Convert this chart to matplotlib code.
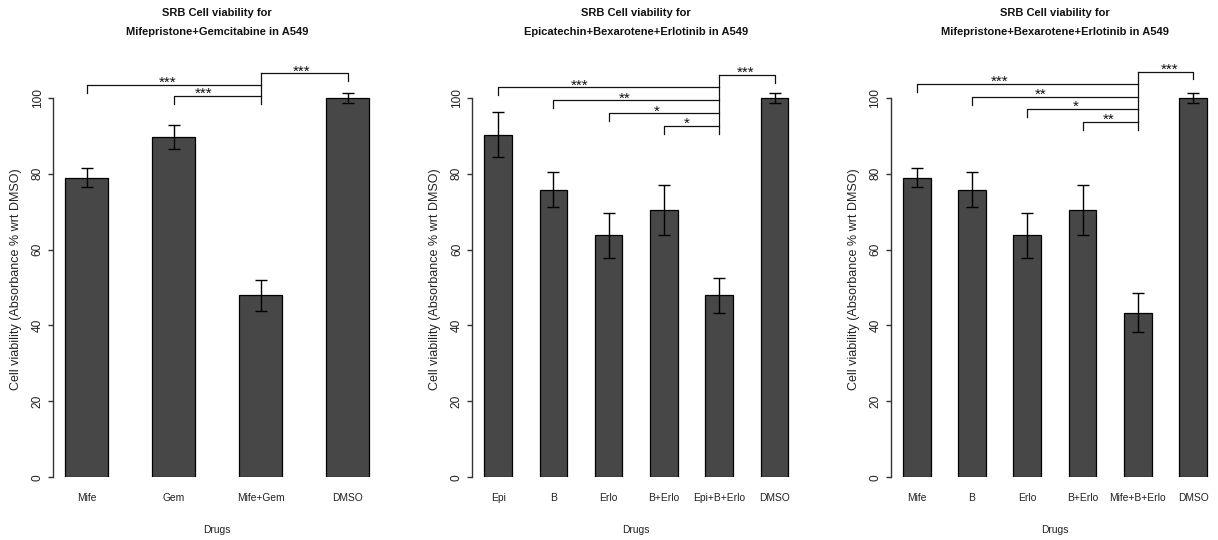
import matplotlib
matplotlib.use("Agg")
import matplotlib.pyplot as plt
from matplotlib import font_manager

# ---- data -------------------------------------------------------------
titles = [
    ("SRB Cell viability for", "Mifepristone+Gemcitabine in A549"),
    ("SRB Cell viability for", "Epicatechin+Bexarotene+Erlotinib in A549"),
    ("SRB Cell viability for", "Mifepristone+Bexarotene+Erlotinib in A549"),
]

mg_drugs = ["Mife", "Gem", "Mife+Gem", "DMSO"]
mg_mean = [78.9, 89.7, 47.9, 100.0]
mg_sem = [2.5, 3.1, 4.2, 1.3]
mg_sig = ["***", "***"]          # each single drug vs the combination
mg_sig_dmso = "***"              # combination vs DMSO

ebe_drugs = ["Epi", "B", "Erlo", "B+Erlo", "Epi+B+Erlo", "DMSO"]
ebe_mean = [90.3, 75.8, 63.7, 70.4, 47.9, 100.0]
ebe_sem = [6.0, 4.7, 5.8, 6.5, 4.6, 1.3]
ebe_sig = ["***", "**", "*", "*"]
ebe_sig_dmso = "***"

mbe_drugs = ["Mife", "B", "Erlo", "B+Erlo", "Mife+B+Erlo", "DMSO"]
mbe_mean = [78.9, 75.8, 63.7, 70.4, 43.4, 100.0]
mbe_sem = [2.5, 4.7, 5.8, 6.5, 5.1, 1.3]
mbe_sig = ["***", "**", "*", "**"]
mbe_sig_dmso = "***"

y_ticks = [0, 20, 40, 60, 80, 100]
x_title = "Drugs"
y_title = "Cell viability (Absorbance % wrt DMSO)"

# ---- fonts ------------------------------------------------------------
installed = {f.name for f in font_manager.fontManager.ttflist}
if "Liberation Sans Narrow" in installed:
    narrow, narrow_size = "Liberation Sans Narrow", 8.6
else:
    narrow, narrow_size = "Liberation Sans", 7.4
plain = "Liberation Sans"

BAR = "#474747"
INK = "#111111"
TXT = "#222222"

W, H = 1218, 540
fig = plt.figure(figsize=(W / 100, H / 100), dpi=100)

# plot regions in pixels: left edge, width; shared vertical scale
y0_px, y100_px = 477.3, 97.7
ytop = 110
px_per_unit = (y0_px - y100_px) / 100.0
ax_h = ytop * px_per_unit
ax_bottom = H - y0_px

panels = [
    dict(left=52.8, width=328.7, drugs=mg_drugs, mean=mg_mean, sem=mg_sem,
         sig=mg_sig, sig_dmso=mg_sig_dmso, top=106.4, step=3.0,
         star_x=[3.37, 4.18], dmso_star_x=6.45),
    dict(left=472.1, width=328.4, drugs=ebe_drugs, mean=ebe_mean, sem=ebe_sem,
         sig=ebe_sig, sig_dmso=ebe_sig_dmso, top=106.1, step=3.4,
         star_x=[4.45, 6.08, 7.25, 8.33], dmso_star_x=10.45),
    dict(left=890.7, width=328.4, drugs=mbe_drugs, mean=mbe_mean, sem=mbe_sem,
         sig=mbe_sig, sig_dmso=mbe_sig_dmso, top=106.9, step=3.3,
         star_x=[4.49, 6.0, 7.26, 8.44], dmso_star_x=10.65),
]

leg = 2.1          # bracket leg length (data units)
star_drop = 0.55   # baseline of the stars relative to the bracket line

for k, p in enumerate(panels):
    ax = fig.add_axes([p["left"] / W, ax_bottom / H, p["width"] / W, ax_h / H])
    n = len(p["drugs"])
    centers = [1.5 + 2 * i for i in range(n)]
    ax.bar(centers, p["mean"], width=1.0, color=BAR, edgecolor="black",
           linewidth=0.9, zorder=2)
    ax.errorbar(centers, p["mean"], yerr=p["sem"], fmt="none", ecolor="black",
                elinewidth=1.0, capsize=4.3, capthick=1.0, zorder=3)

    span = 2 * n - 1
    pad = 0.04 * span
    ax.set_xlim(1 - pad, 2 * n + pad)
    ax.set_ylim(0, ytop)

    for side in ("top", "right", "bottom"):
        ax.spines[side].set_visible(False)
    ax.spines["left"].set_bounds(0, 100)
    ax.spines["left"].set_color("#333333")
    ax.spines["left"].set_linewidth(1.0)

    ax.set_yticks(y_ticks)
    ax.set_yticklabels([str(v) for v in y_ticks], rotation=90, va="center",
                       fontsize=8.6, family=plain, color=TXT)
    ax.tick_params(axis="y", length=5 * 0.72, width=1.0, pad=3.0,
                   color="#333333")
    ax.set_xticks(centers)
    ax.set_xticklabels(p["drugs"], fontsize=narrow_size, family=narrow,
                       color=TXT)
    ax.tick_params(axis="x", length=0, pad=11.5)

    ax.set_ylabel(y_title, fontsize=9, family=plain, color=TXT)
    ax.yaxis.label.set_verticalalignment("center")
    ax.yaxis.set_label_coords(-37 / p["width"], (y0_px - 279) / ax_h)
    ax.set_xlabel(x_title, fontsize=narrow_size, family=narrow, color=TXT)
    ax.xaxis.label.set_verticalalignment("center")
    ax.xaxis.set_label_coords(0.5, -(530 - y0_px) / ax_h)

    ax.text(0.5, (y0_px - 13.3) / ax_h, titles[k][0], transform=ax.transAxes,
            ha="center", va="center", fontsize=8, fontweight="bold",
            family=plain, color=INK)
    ax.text(0.5, (y0_px - 32.3) / ax_h, titles[k][1], transform=ax.transAxes,
            ha="center", va="center", fontsize=8, fontweight="bold",
            family=plain, color=INK)

    # significance brackets: every treatment vs the combination, and the
    # combination vs DMSO
    combo = centers[-2]
    dmso = centers[-1]
    lk = dict(color=INK, lw=0.9, clip_on=False, zorder=4)
    top = p["top"]
    ax.plot([combo, dmso, dmso], [top, top, top - leg], **lk)
    ax.text(p["dmso_star_x"], top - star_drop, p["sig_dmso"], ha="center",
            va="baseline", fontsize=11, family=plain, color=INK, clip_on=False)
    levels = []
    for i, s in enumerate(p["sig"]):
        h = top - p["step"] * (i + 1)
        levels.append(h)
        xi = centers[i]
        ax.plot([xi, xi, combo], [h - leg, h, h], **lk)
        ax.text(p["star_x"][i], h - star_drop, s, ha="center", va="baseline",
                fontsize=11, family=plain, color=INK, clip_on=False)
    ax.plot([combo, combo], [top, min(levels) - leg], **lk)

fig.savefig("out.png", dpi=100)
